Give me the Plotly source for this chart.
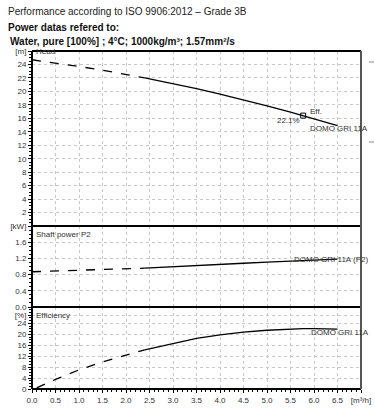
import plotly.graph_objects as go

# ---- data ----
q_dash = [0.0, 0.5, 1.0, 1.5, 2.0, 2.4]
head_dash = [24.7, 24.23, 23.7, 23.14, 22.53, 22.0]
q_solid = [2.4, 3.0, 3.5, 4.0, 4.5, 5.0, 5.5, 5.77, 6.0, 6.5]
head_solid = [22.0, 21.15, 20.4, 19.6, 18.76, 17.86, 16.93, 16.4, 15.94, 14.9]

p2_dash = [0.87, 0.89, 0.90, 0.92, 0.94, 0.96]
p2_solid = [0.96, 0.99, 1.02, 1.05, 1.08, 1.11, 1.13, 1.15, 1.16, 1.18]

q_eff_dash = [0.1, 0.5, 1.0, 1.5, 2.0, 2.4]
eff_dash = [0.4, 3.5, 7.0, 9.9, 12.4, 14.3]
eff_solid = [14.3, 16.7, 18.5, 19.8, 20.8, 21.5, 21.95, 22.1, 22.1, 21.9]

bep_q = [5.77]
bep_head = [16.4]

x_ticks = [0.0, 0.5, 1.0, 1.5, 2.0, 2.5, 3.0, 3.5, 4.0, 4.5, 5.0, 5.5, 6.0, 6.5, 7.0]
x_labels = ["0.0", "0.5", "1.0", "1.5", "2.0", "2.5", "3.0", "3.5", "4.0", "4.5",
            "5.0", "5.5", "6.0", "6.5", "[m³/h]"]
head_ticks = [2, 4, 6, 8, 10, 12, 14, 16, 18, 20, 22, 24, 26]
head_labels = ["2", "4", "6", "8", "10", "12", "14", "16", "18", "20", "22", "24", "[m]"]
kw_ticks = [0.0, 0.4, 0.8, 1.2, 1.6, 2.0]
kw_labels = ["0.0", "0.4", "0.8", "1.2", "1.6", "[kW]"]
eff_ticks = [0, 4, 8, 12, 16, 20, 24, 27.0]
eff_labels = ["0", "4", "8", "12", "16", "20", "24", "[%]"]

# ---- layout geometry (pixels) ----
W, H = 375, 420
L, R, T, B = 32, 361, 51, 389
PH = B - T


def pyf(ypx):
    return (B - ypx) / PH


def pxf(xpx):
    return (xpx - L) / (R - L)


FONT = "Liberation Sans, Arial, sans-serif"
TXT = "#333333"
LINE = dict(color="black", width=1.3)
DASH = dict(color="black", width=1.3, dash="dash")

fig = go.Figure()

# head
fig.add_trace(go.Scatter(x=q_dash, y=head_dash, mode="lines", line=DASH, xaxis="x3", yaxis="y3"))
fig.add_trace(go.Scatter(x=q_solid, y=head_solid, mode="lines", line=LINE, xaxis="x3", yaxis="y3"))
fig.add_trace(go.Scatter(x=bep_q, y=bep_head, mode="markers",
                         marker=dict(symbol="square-open", size=5, color="black", line=dict(width=1)),
                         xaxis="x3", yaxis="y3"))
# power
fig.add_trace(go.Scatter(x=q_dash, y=p2_dash, mode="lines", line=DASH, xaxis="x2", yaxis="y2"))
fig.add_trace(go.Scatter(x=q_solid, y=p2_solid, mode="lines", line=LINE, xaxis="x2", yaxis="y2"))
# efficiency
fig.add_trace(go.Scatter(x=q_eff_dash, y=eff_dash, mode="lines", line=DASH, xaxis="x", yaxis="y"))
fig.add_trace(go.Scatter(x=q_solid, y=eff_solid, mode="lines", line=LINE, xaxis="x", yaxis="y"))

d_eff = [0, pyf(307)]
d_kw = [pyf(307), pyf(226)]
d_head = [pyf(226), 1]

tickfont = dict(family=FONT, size=8, color=TXT)
grid = dict(showgrid=True, gridcolor="#c8c8c8", griddash="dot", gridwidth=1)


def yax(domain, rng, tv, tt, minor_dtick, anchor_x="x"):
    return dict(domain=domain, range=rng, tickvals=tv, ticktext=tt, tickfont=tickfont,
                ticks="outside", ticklen=3, tickcolor="black", showline=False, zeroline=False,
                anchor=anchor_x, fixedrange=True, automargin=False,
                minor=dict(dtick=minor_dtick, ticks="outside", ticklen=2, tickcolor="black", showgrid=False),
                **grid)


fig.update_layout(
    width=W, height=H,
    margin=dict(l=L, r=W - R, t=T, b=H - B, autoexpand=False),
    plot_bgcolor="white", paper_bgcolor="white",
    showlegend=False,
    font=dict(family=FONT, size=8, color=TXT),
    xaxis=dict(domain=[0, 1], range=[0, 7.0], tickvals=x_ticks, ticktext=x_labels, tickfont=tickfont,
               ticks="outside", ticklen=3, tickcolor="black", showline=False, zeroline=False,
               anchor="y", fixedrange=True, automargin=False,
               minor=dict(dtick=0.1, ticks="outside", ticklen=2, tickcolor="black", showgrid=False),
               **grid),
    xaxis2=dict(domain=[0, 1], range=[0, 7.0], matches="x", anchor="y2", showticklabels=False,
                tickvals=x_ticks[:-1], ticks="", zeroline=False, automargin=False, **grid),
    xaxis3=dict(domain=[0, 1], range=[0, 7.0], matches="x", anchor="y3", showticklabels=False,
                tickvals=x_ticks[:-1], ticks="", zeroline=False, automargin=False, **grid),
    yaxis=yax(d_eff, [0, 30], eff_ticks, eff_labels, 1),
    yaxis2=yax(d_kw, [0, 2.0], kw_ticks, kw_labels, 0.1, "x2"),
    yaxis3=yax(d_head, [0, 26], head_ticks, head_labels, 0.5, "x3"),
)

# borders
shapes = []
for ypx in [T, 226, 307, B]:
    shapes.append(dict(type="line", xref="paper", yref="paper", x0=0, x1=1, y0=pyf(ypx), y1=pyf(ypx),
                       line=dict(color="black", width=2)))
shapes.append(dict(type="line", xref="paper", yref="paper", x0=0, x1=0, y0=0, y1=1,
                   line=dict(color="black", width=2)))
shapes.append(dict(type="line", xref="paper", yref="paper", x0=1, x1=1, y0=0, y1=1,
                   line=dict(color="#555555", width=2)))
for ypx in [62, 142]:
    shapes.append(dict(type="line", xref="paper", yref="paper", x0=pxf(369), x1=pxf(374),
                       y0=pyf(ypx), y1=pyf(ypx), line=dict(color="#888888", width=1)))
fig.update_layout(shapes=shapes)

ann = []


def a(text, x, y, xref, yref, xanchor="left", yanchor="middle", size=8, bold=False, color=TXT):
    ann.append(dict(text=("<b>%s</b>" % text) if bold else text, x=x, y=y, xref=xref, yref=yref,
                    xanchor=xanchor, yanchor=yanchor, showarrow=False,
                    font=dict(family=FONT, size=size, color=color)))


a("Performance according to ISO 9906:2012 – Grade 3B", pxf(6), pyf(11), "paper", "paper", size=10, color="#222")
a("Power datas refered to:", pxf(6), pyf(27), "paper", "paper", size=10, bold=True, color="#111")
a("Water, pure [100%] ; 4°C; 1000kg/m³; 1.57mm²/s", pxf(8), pyf(42), "paper", "paper", size=10, bold=True, color="#111")

a("Head", 0.05, 26, "x3", "y3")
a("Eff.", 5.87, 17.0, "x3", "y3")
a("22.1%", 5.45, 15.7, "x3", "y3", xanchor="center")
a("DOMO GRI 11A", 5.88, 14.5, "x3", "y3")
a("Shaft power P2", 0.05, 1.80, "x2", "y2")
a("DOMO GRI 11A (P2)", 5.53, 1.17, "x2", "y2")
a("Efficiency", 0.05, 26.8, "x", "y")
a("DOMO GRI 11A", 5.89, 20.8, "x", "y")
fig.update_layout(annotations=ann)

fig.write_html("out.html", config={"displayModeBar": False},
               post_script="document.body.style.margin='0';")
